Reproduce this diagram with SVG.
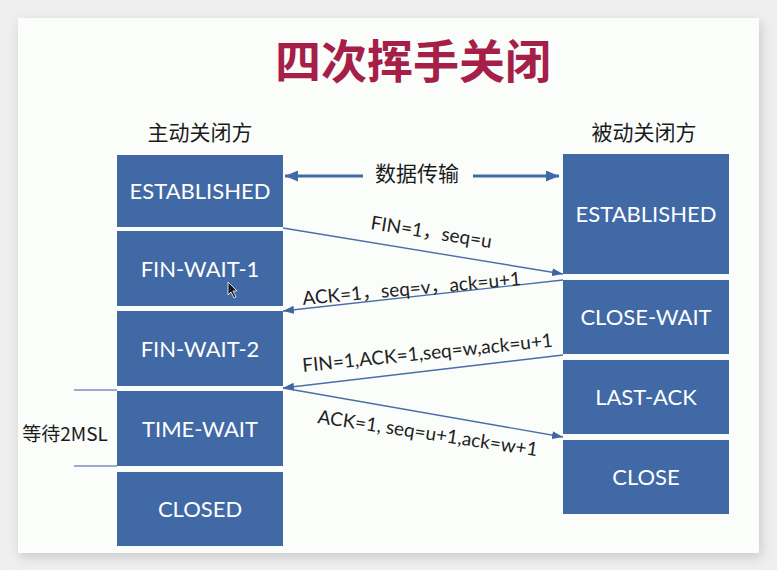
<svg xmlns="http://www.w3.org/2000/svg" width="777" height="570" viewBox="0 0 777 570">
<style>
.box{fill:#4169a6;}
.st{font-family:Lato,"Noto Sans CJK SC",sans-serif;font-size:22px;fill:#ffffff;text-anchor:middle;}
.lbl{font-family:Lato,"Noto Sans CJK SC",sans-serif;font-size:19px;fill:#222222;}
.cn{font-family:"Noto Sans CJK SC",sans-serif;fill:#1a1a1a;}
.msg{stroke:#4a6ea8;stroke-width:1.4;fill:none;}
.data{stroke:#4169a6;stroke-width:3;fill:none;}
.brk{stroke:#3d5f95;stroke-width:1.2;}
</style>
<defs>
<filter id="sh" x="-10%" y="-10%" width="120%" height="120%"><feGaussianBlur stdDeviation="6"/></filter>
<marker id="ah" viewBox="0 0 11 8" refX="11" refY="4" markerWidth="11" markerHeight="8" orient="auto" markerUnits="userSpaceOnUse"><path d="M0,0 L11,4 L0,8 z" fill="#3f66a3"/></marker>
<marker id="ahb" viewBox="0 0 13 11" refX="13" refY="5.5" markerWidth="13" markerHeight="11" orient="auto" markerUnits="userSpaceOnUse"><path d="M0,0 L13,5.5 L0,11 z" fill="#4169a6"/></marker>
</defs>
<rect x="0" y="0" width="777" height="570" fill="#efefef"/>
<rect x="20" y="22" width="741" height="535" fill="#c8c8c8" filter="url(#sh)"/>
<rect x="18" y="18" width="741" height="535" fill="#fbfdfb"/>
<text x="413" y="78" class="cn" font-size="46" font-weight="bold" fill="#a51f48" style="fill:#a51f48" text-anchor="middle">四次挥手关闭</text>
<text x="200" y="140" class="cn" font-size="21" text-anchor="middle">主动关闭方</text>
<text x="644" y="140" class="cn" font-size="21" text-anchor="middle">被动关闭方</text>
<text x="417" y="181" class="cn" font-size="21" text-anchor="middle">数据传输</text>
<text x="65" y="441" class="cn" font-size="19" text-anchor="middle">等待2MSL</text>
<g id="a-established"><rect class="box" x="117" y="155" width="166" height="72"/><text class="st" x="200" y="199">ESTABLISHED</text></g>
<g id="a-finwait1"><rect class="box" x="117" y="231" width="166" height="75"/><text class="st" x="200" y="276.5">FIN-WAIT-1</text></g>
<g id="a-finwait2"><rect class="box" x="117" y="311" width="166" height="75"/><text class="st" x="200" y="356.5">FIN-WAIT-2</text></g>
<g id="a-timewait"><rect class="box" x="117" y="391" width="166" height="75"/><text class="st" x="200" y="436.5">TIME-WAIT</text></g>
<g id="a-closed"><rect class="box" x="117" y="472" width="166" height="74"/><text class="st" x="200" y="517">CLOSED</text></g>
<g id="b-established"><rect class="box" x="563" y="154" width="166" height="120"/><text class="st" x="646" y="222">ESTABLISHED</text></g>
<g id="b-closewait"><rect class="box" x="563" y="280" width="166" height="74"/><text class="st" x="646" y="325">CLOSE-WAIT</text></g>
<g id="b-lastack"><rect class="box" x="563" y="360" width="166" height="74"/><text class="st" x="646" y="405">LAST-ACK</text></g>
<g id="b-close"><rect class="box" x="563" y="440" width="166" height="74"/><text class="st" x="646" y="485">CLOSE</text></g>
<g id="connectors">
<line class="data" x1="363" y1="176" x2="285" y2="176" marker-end="url(#ahb)"/>
<line class="data" x1="473" y1="176" x2="559" y2="176" marker-end="url(#ahb)"/>
<line class="msg" x1="283" y1="228" x2="563" y2="274" marker-end="url(#ah)"/>
<line class="msg" x1="563" y1="280" x2="283" y2="311" marker-end="url(#ah)"/>
<line class="msg" x1="563" y1="355" x2="283" y2="388" marker-end="url(#ah)"/>
<line class="msg" x1="283" y1="388" x2="563" y2="437" marker-end="url(#ah)"/>
<line class="brk" x1="74" y1="390" x2="117" y2="390"/>
<line class="brk" x1="74" y1="466" x2="117" y2="466"/>
</g>
<text class="lbl" x="370" y="229" transform="rotate(9 370 229)">FIN=1，seq=u</text>
<text class="lbl" x="303" y="305" transform="rotate(-5.2 303 305)">ACK=1，seq=v，ack=u+1</text>
<text class="lbl" x="303" y="372" transform="rotate(-5.8 303 372)">FIN=1,ACK=1,seq=w,ack=u+1</text>
<text class="lbl" x="317" y="423" transform="rotate(8.6 317 423)">ACK=1, seq=u+1,ack=w+1</text>
<path d="M228,282 L228,295 L231,292 L234,298 L236,297 L233,291 L237,291 Z" fill="#1a1a1a" stroke="#ffffff" stroke-width="0.8"/>
</svg>
